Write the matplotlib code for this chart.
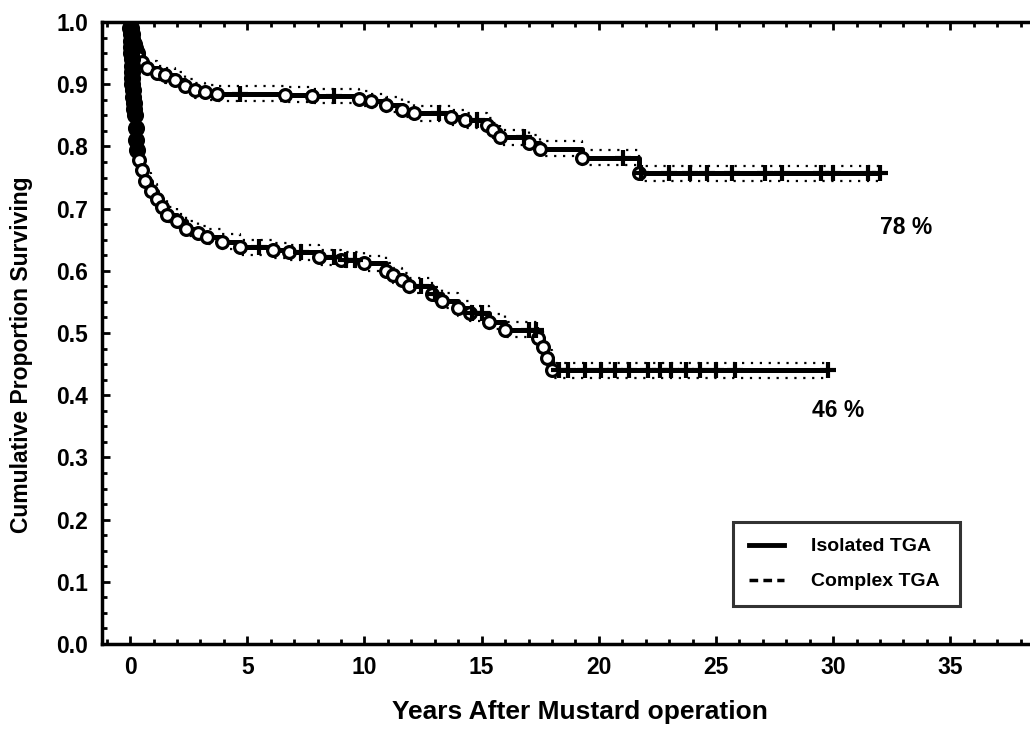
import matplotlib
matplotlib.use("Agg")
import matplotlib.pyplot as plt
from matplotlib.ticker import MultipleLocator
import numpy as np

# ---------------- data ----------------
iso_event_t = [0.03, 0.06, 0.1, 0.15, 0.2, 0.28, 0.35, 0.5, 0.72, 1.14, 1.48, 1.9, 2.33,
               2.75, 3.2, 3.7, 6.6, 7.75, 9.75, 10.3, 10.9, 11.6, 12.1, 13.7, 14.3, 15.25,
               15.5, 15.8, 17.0, 17.5, 19.3, 21.7]
iso_event_v = [0.99, 0.98, 0.972, 0.965, 0.958, 0.95, 0.943, 0.935, 0.926, 0.918, 0.914,
               0.907, 0.897, 0.890, 0.887, 0.885, 0.883, 0.881, 0.877, 0.873, 0.867, 0.859,
               0.853, 0.847, 0.842, 0.834, 0.826, 0.815, 0.806, 0.796, 0.782, 0.757]
iso_censor_t = [4.7, 8.7, 13.2, 14.8, 16.8, 21.05, 21.8, 23.0, 23.9, 24.6, 25.7, 27.1,
                27.8, 29.5, 30.0, 31.5, 32.0]
iso_end_t = 32.0

cpx_event_t = [0.01, 0.02, 0.03, 0.04, 0.05, 0.06, 0.07, 0.08, 0.09, 0.10, 0.12, 0.14,
               0.16, 0.18, 0.20, 0.23, 0.26, 0.30, 0.40, 0.50, 0.64, 0.9, 1.15, 1.36,
               1.57, 2.0, 2.4, 2.9, 3.3, 3.9, 4.7, 6.1, 6.8, 8.05, 9.0, 10.0, 10.9, 11.2,
               11.6, 11.9, 12.9, 13.3, 14.0, 14.5, 15.3, 16.0, 17.4, 17.6, 17.8, 18.0]
cpx_event_v = [0.99, 0.98, 0.97, 0.96, 0.95, 0.94, 0.93, 0.92, 0.91, 0.90, 0.89, 0.88,
               0.87, 0.86, 0.85, 0.83, 0.81, 0.795, 0.778, 0.762, 0.745, 0.728, 0.715,
               0.703, 0.690, 0.680, 0.668, 0.660, 0.655, 0.647, 0.638, 0.633, 0.630, 0.622,
               0.618, 0.612, 0.600, 0.593, 0.585, 0.576, 0.562, 0.552, 0.540, 0.532, 0.518,
               0.505, 0.492, 0.478, 0.460, 0.440]
cpx_censor_t = [5.5, 7.3, 8.7, 9.2, 9.6, 12.4, 13.0, 14.6, 15.0, 17.0, 17.3, 18.3, 18.7,
                19.4, 20.1, 20.7, 21.3, 22.1, 22.6, 23.1, 23.7, 24.3, 25.0, 25.8, 29.8]
cpx_end_t = 29.8

legend_labels = ["Isolated TGA", "Complex TGA"]
end_labels = ["78 %", "46 %"]
xticks = [0, 5, 10, 15, 20, 25, 30, 35]
yticks = [0.0, 0.1, 0.2, 0.3, 0.4, 0.5, 0.6, 0.7, 0.8, 0.9, 1.0]

FONT = ["Liberation Sans", "DejaVu Sans"]
plt.rcParams["font.family"] = FONT
plt.rcParams["font.weight"] = "bold"

fig = plt.figure(figsize=(10.30, 7.54), dpi=100)
ax = fig.add_axes([102 / 1030, 1 - 644 / 754, 1 - 102 / 1030, (644 - 22) / 754])


def step_xy(ev_t, ev_v, end_t):
    xs = [0.0]
    ys = [1.0]
    for t, v in zip(ev_t, ev_v):
        xs.append(t)
        ys.append(v)
    xs.append(end_t)
    ys.append(ev_v[-1])
    return np.array(xs), np.array(ys)


def value_at(ev_t, ev_v, t):
    v = 1.0
    for et, evv in zip(ev_t, ev_v):
        if et <= t:
            v = evv
    return v


EARLY = 0.35  # dense early deaths render as a solid black band
for ev_t, ev_v, cens, end_t in [(iso_event_t, iso_event_v, iso_censor_t, iso_end_t),
                                (cpx_event_t, cpx_event_v, cpx_censor_t, cpx_end_t)]:
    xs, ys = step_xy(ev_t, ev_v, end_t)
    for off in (0.012, -0.012):
        ax.step(xs, ys + off, where="post", color="black", lw=1.6,
                linestyle=(0, (1, 3)), zorder=2)
    ax.step(xs, ys, where="post", color="black", lw=3.6, zorder=3,
            solid_capstyle="butt")
    et = np.array(ev_t)
    evv = np.array(ev_v)
    early = et < EARLY
    ax.plot(et[early], evv[early], "o", ms=10, mfc="black", mec="black", mew=2.3, zorder=4)
    ax.plot(et[~early], evv[~early], "o", ms=8.5, mfc="white", mec="black", mew=2.3, zorder=4)
    cv = [value_at(ev_t, ev_v, t) for t in cens]
    ax.plot(cens, cv, "+", ms=11, mew=3.0, color="black", zorder=5)

ax.set_xlim(-1.2, 38.4)
ax.set_ylim(0, 1.0)
ax.set_xticks(xticks)
ax.set_yticks(yticks)
ax.set_yticklabels([f"{v:.1f}" for v in yticks])
ax.xaxis.set_minor_locator(MultipleLocator(1))
ax.yaxis.set_minor_locator(MultipleLocator(0.025))
ax.tick_params(which="both", direction="in", top=True, right=False, width=2)
ax.tick_params(which="major", length=6, labelsize=16.5)
ax.tick_params(which="minor", length=3.5)
ax.tick_params(axis="x", pad=9)
ax.tick_params(axis="y", pad=10)
for lab in ax.get_xticklabels() + ax.get_yticklabels():
    lab.set_fontweight("bold")
for s in ["left", "bottom", "top"]:
    ax.spines[s].set_linewidth(2.5)
ax.spines["right"].set_visible(False)

ax.set_xlabel("Years After Mustard operation", fontsize=19, fontweight="bold")
ax.set_ylabel("Cumulative Proportion Surviving", fontsize=16.5, fontweight="bold")
ax.xaxis.set_label_coords((580 - 102) / 928, -(712 - 644) / 622)
ax.yaxis.set_label_coords((22 - 102) / 928, 1 - (355 - 22) / 622)
ax.xaxis.label.set_va("center")
ax.yaxis.label.set_va("center")

ax.text(33.1, 0.67, end_labels[0], fontsize=16.5, fontweight="bold", ha="center", va="center")
ax.text(30.2, 0.375, end_labels[1], fontsize=16.5, fontweight="bold", ha="center", va="center")

# legend
h1, = ax.plot([], [], color="black", lw=3.5, label=legend_labels[0])
h2, = ax.plot([], [], color="black", lw=2.5, linestyle=(0, (2.5, 1.5)), label=legend_labels[1])
leg = ax.legend(handles=[h1, h2], loc="lower left",
                bbox_to_anchor=((733 - 102) / 928, (644 - 606) / 622,
                                (960 - 733) / 928, (606 - 518) / 622),
                mode="expand", frameon=True, fancybox=False, edgecolor="black",
                handlelength=1.8, handletextpad=1.4, labelspacing=0.9, borderpad=0.8,
                borderaxespad=0.0,
                prop={"family": FONT, "weight": "bold", "size": 14})
leg.get_frame().set_linewidth(2.2)

fig.savefig("out.png", dpi=100)
